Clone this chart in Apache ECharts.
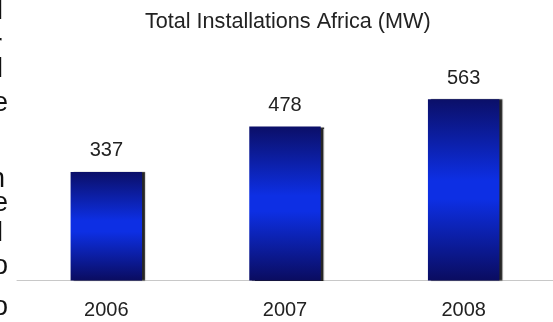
<!DOCTYPE html>
<html>
<head>
<meta charset="utf-8">
<script src="https://cdn.jsdelivr.net/npm/echarts@6/dist/echarts.min.js"></script>
<style>
  html, body { margin: 0; padding: 0; background: #fff; }
  #chart { width: 553px; height: 322px; }
</style>
</head>
<body>
<div id="chart"></div>
<script>
// Yearly cumulative installed capacity (MW)
const years = ['2006', '2007', '2008'];
const installedMW = [337, 478, 563];
const chartTitle = 'Total Installations Africa (MW)';

// Line-end letters of the neighbouring paragraph, clipped at the left edge
const marginLetters = ['l', 'r', 'l', 'e', 'n', 'e', 'l', 'o', 'o'];

const FONT = '"Liberation Sans", Arial, sans-serif';

const chart = echarts.init(document.getElementById('chart'), null, { renderer: 'canvas' });

const letterPlacement = [
  { x: 3, y: 25 }, { x: 2, y: 59 }, { x: 3, y: 83 }, { x: 8, y: 117 },
  { x: 5, y: 193 }, { x: 8, y: 217 }, { x: 3, y: 247 }, { x: 8, y: 280 }, { x: 8, y: 321 }
];

chart.setOption({
  animation: false,
  backgroundColor: '#ffffff',
  title: {
    text: chartTitle,
    left: 140,
    top: 6,
    textStyle: { fontFamily: FONT, fontSize: 21.6, fontWeight: 'normal', color: '#222' }
  },
  grid: { left: 17, right: 0, top: 55, bottom: 41.5 },
  xAxis: {
    type: 'category',
    data: years,
    axisLine: { lineStyle: { color: '#c8c8c8', width: 1 } },
    axisTick: { show: false },
    axisLabel: { fontFamily: FONT, fontSize: 20, color: '#222', margin: 20 }
  },
  yAxis: {
    type: 'value',
    min: 0,
    max: 700,
    show: false,
    splitLine: { show: false }
  },
  series: [{
    type: 'bar',
    data: installedMW,
    barWidth: '40%',
    itemStyle: {
      color: new echarts.graphic.LinearGradient(0, 0, 0, 1, [
        { offset: 0, color: '#0b0f68' },
        { offset: 0.45, color: '#0d2fe4' },
        { offset: 0.55, color: '#0d2fe4' },
        { offset: 1, color: '#0a0c60' }
      ]),
      shadowColor: 'rgba(0,0,0,0.85)',
      shadowOffsetX: 3,
      shadowOffsetY: 0,
      shadowBlur: 1
    },
    label: {
      show: true,
      position: 'top',
      distance: 11,
      fontFamily: FONT,
      fontSize: 20,
      color: '#222'
    }
  }],
  graphic: marginLetters.map((ch, i) => ({
    type: 'text',
    x: letterPlacement[i].x,
    y: letterPlacement[i].y,
    style: {
      text: ch,
      align: 'right',
      verticalAlign: 'bottom',
      font: '27px ' + FONT,
      fill: '#111'
    },
    silent: true
  }))
});
</script>
</body>
</html>
